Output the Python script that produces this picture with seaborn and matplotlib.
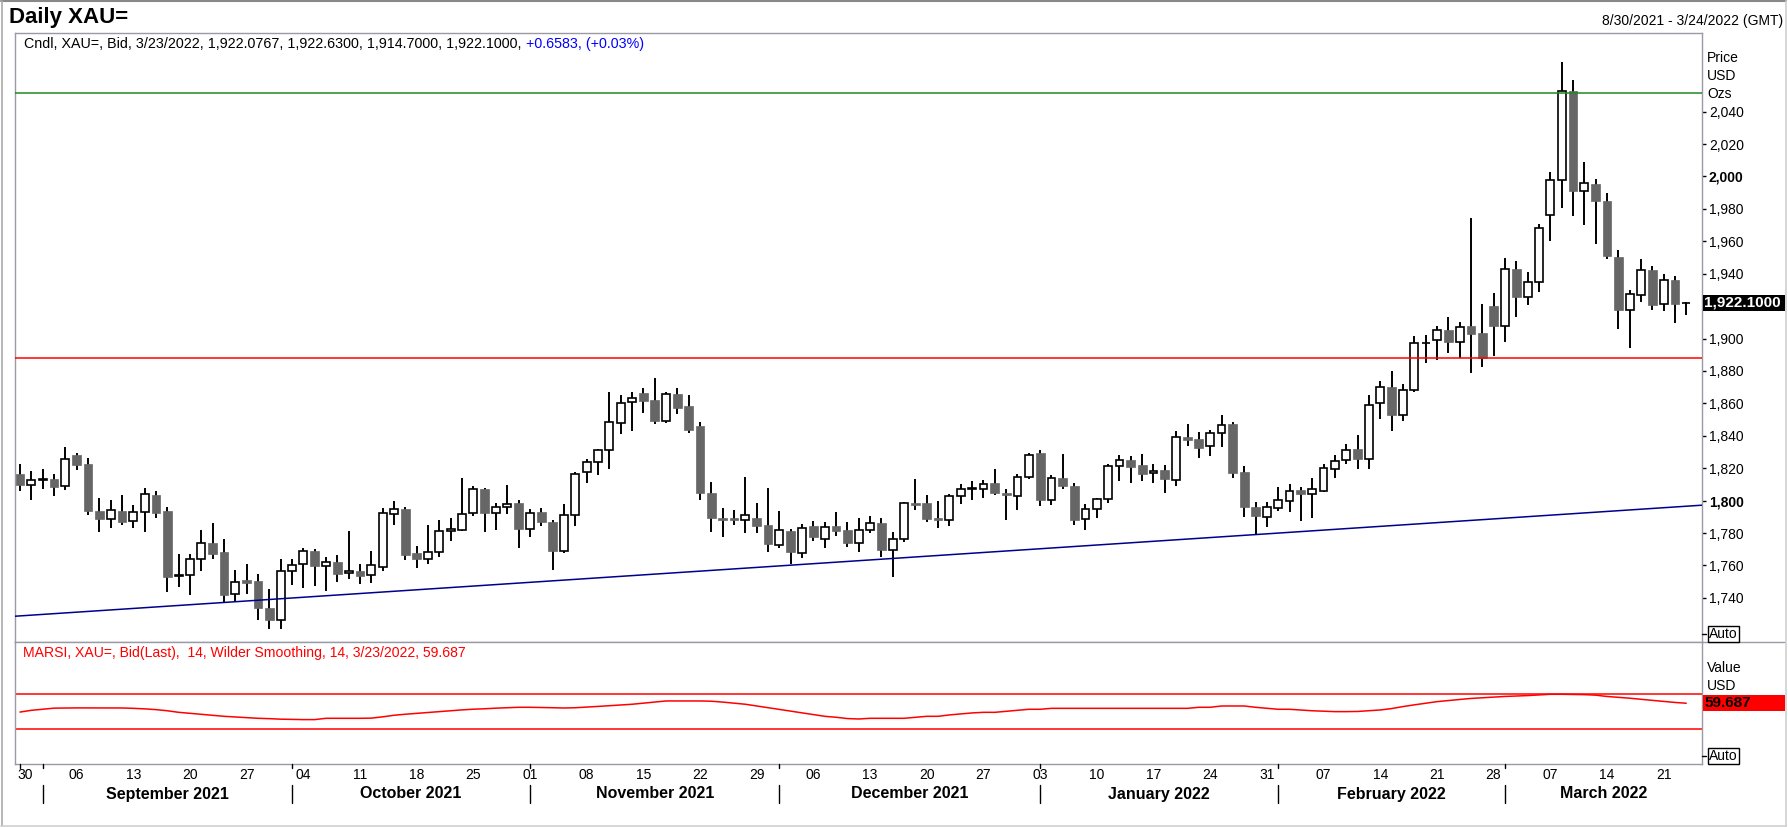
import numpy as np
import pandas as pd
import matplotlib
matplotlib.use("Agg")
import matplotlib.pyplot as plt
import seaborn as sns
from matplotlib.lines import Line2D
from matplotlib.patches import Rectangle
from matplotlib.transforms import blended_transform_factory as btf

# ---------------- data ----------------
dates = pd.bdate_range("2021-08-30", "2022-03-23")

opens = [1816.3, 1809.6, 1812.5, 1813.5, 1809.0, 1828.2, 1822.7, 1793.9, 1788.8, 1793.9,
         1787.6, 1793.1, 1803.7, 1793.9, 1753.5, 1753.9, 1763.7, 1774.1, 1768.2, 1742.4,
         1751.0, 1750.4, 1733.9, 1726.3, 1756.3, 1761.2, 1769.2, 1759.8, 1762.4, 1755.1,
         1756.9, 1753.9, 1759.2, 1791.8, 1795.1, 1767.6, 1764.3, 1768.6, 1781.4, 1782.0,
         1792.4, 1807.3, 1792.4, 1796.1, 1798.8, 1782.7, 1793.3, 1787.1, 1769.0, 1791.2,
         1817.6, 1823.7, 1831.0, 1848.2, 1861.0, 1866.7, 1861.8, 1849.2, 1865.5, 1858.2,
         1845.9, 1804.9, 1789.6, 1789.0, 1788.2, 1789.0, 1784.7, 1772.9, 1781.4, 1768.0,
         1784.1, 1776.5, 1784.1, 1782.2, 1774.1, 1782.0, 1786.5, 1769.8, 1776.5, 1798.6,
         1798.8, 1789.0, 1788.2, 1802.9, 1807.3, 1807.1, 1811.0, 1804.9, 1802.9, 1814.5,
         1829.4, 1800.4, 1813.9, 1809.2, 1788.8, 1794.9, 1800.8, 1821.2, 1825.1, 1822.0,
         1816.9, 1819.0, 1812.7, 1839.2, 1838.0, 1833.5, 1842.0, 1847.1, 1817.8, 1796.3,
         1790.0, 1795.5, 1799.8, 1806.7, 1804.1, 1805.9, 1819.4, 1824.9, 1831.6, 1825.5,
         1860.1, 1870.0, 1853.0, 1868.2, 1897.3, 1899.3, 1905.0, 1898.1, 1907.6, 1903.3,
         1919.9, 1907.8, 1943.1, 1925.9, 1935.1, 1976.3, 1997.9, 2052.8, 1990.9, 1995.4,
         1984.7, 1950.5, 1917.8, 1927.1, 1942.5, 1921.5, 1935.9, 1922.0767]
highs = [1822.4, 1818.4, 1819.4, 1816.3, 1833.1, 1829.4, 1826.1, 1801.6, 1800.6, 1803.7,
         1797.3, 1808.0, 1806.1, 1796.3, 1767.3, 1766.9, 1781.6, 1786.3, 1776.1, 1757.1,
         1760.8, 1754.7, 1745.5, 1763.9, 1763.7, 1770.8, 1770.2, 1765.1, 1766.7, 1781.0,
         1760.8, 1769.2, 1795.7, 1800.0, 1796.3, 1771.8, 1784.7, 1787.8, 1789.0, 1813.7,
         1809.0, 1808.0, 1798.6, 1809.8, 1800.6, 1795.1, 1795.7, 1787.8, 1798.0, 1817.8,
         1825.7, 1831.6, 1867.3, 1864.9, 1867.3, 1869.2, 1875.9, 1867.1, 1869.8, 1864.9,
         1848.4, 1811.6, 1795.7, 1794.5, 1814.7, 1798.8, 1808.0, 1793.9, 1782.7, 1785.7,
         1787.3, 1787.1, 1792.7, 1787.1, 1789.0, 1790.8, 1789.0, 1780.4, 1799.0, 1813.5,
         1803.7, 1800.0, 1804.1, 1810.4, 1812.2, 1812.9, 1819.6, 1807.3, 1816.3, 1829.6,
         1831.0, 1815.7, 1828.8, 1810.8, 1798.2, 1801.8, 1822.7, 1828.0, 1827.8, 1828.8,
         1822.7, 1822.2, 1842.9, 1847.1, 1842.2, 1843.3, 1853.1, 1848.8, 1821.4, 1799.4,
         1799.4, 1808.6, 1810.4, 1808.6, 1814.1, 1822.4, 1828.0, 1834.7, 1840.8, 1865.1,
         1873.8, 1879.9, 1872.1, 1901.4, 1902.4, 1907.7, 1913.2, 1910.5, 1974.3, 1921.1,
         1928.3, 1949.9, 1947.6, 1940.8, 1970.4, 2002.5, 2070.9, 2059.7, 2009.1, 1998.5,
         1989.6, 1954.4, 1929.7, 1949.2, 1944.9, 1940.0, 1938.4, 1922.63]
lows = [1805.7, 1800.4, 1806.9, 1803.1, 1806.7, 1819.2, 1791.0, 1780.6, 1783.1, 1784.7,
        1783.1, 1780.6, 1789.2, 1743.9, 1746.5, 1741.6, 1756.7, 1764.1, 1737.6, 1738.2,
        1742.7, 1726.1, 1720.8, 1720.8, 1748.2, 1746.1, 1747.6, 1744.5, 1750.0, 1751.8,
        1748.8, 1749.4, 1756.7, 1784.9, 1763.5, 1758.6, 1761.0, 1765.3, 1774.9, 1781.2,
        1790.4, 1780.6, 1781.8, 1791.6, 1770.8, 1777.6, 1784.5, 1757.1, 1767.8, 1784.3,
        1810.6, 1816.1, 1819.8, 1841.2, 1843.1, 1854.1, 1847.3, 1848.0, 1853.5, 1841.8,
        1800.6, 1780.4, 1777.6, 1785.1, 1780.0, 1780.0, 1768.4, 1771.0, 1761.2, 1764.7,
        1775.1, 1770.8, 1778.2, 1771.4, 1768.4, 1780.0, 1765.3, 1753.1, 1774.5, 1794.1,
        1786.7, 1783.1, 1784.3, 1797.8, 1800.2, 1801.4, 1803.3, 1788.0, 1794.1, 1813.1,
        1796.5, 1797.1, 1806.9, 1784.9, 1781.8, 1789.0, 1798.8, 1812.2, 1810.6, 1812.2,
        1811.0, 1804.5, 1808.8, 1833.9, 1826.5, 1827.8, 1833.3, 1813.7, 1789.8, 1779.0,
        1783.7, 1793.9, 1792.9, 1787.3, 1789.2, 1805.5, 1813.7, 1822.9, 1819.8, 1819.8,
        1850.2, 1843.2, 1849.3, 1867.1, 1885.0, 1886.5, 1890.8, 1888.1, 1878.5, 1882.6,
        1889.3, 1898.1, 1913.4, 1920.9, 1928.7, 1959.9, 1980.6, 1975.5, 1970.2, 1958.5,
        1949.0, 1906.2, 1894.3, 1922.8, 1917.4, 1917.2, 1909.6, 1914.70]
closes = [1809.4, 1812.7, 1813.2, 1808.6, 1825.5, 1822.2, 1793.5, 1788.6, 1794.3, 1786.7,
          1793.1, 1804.1, 1792.2, 1753.1, 1753.9, 1763.7, 1774.1, 1767.3, 1742.0, 1749.6,
          1749.4, 1733.5, 1726.1, 1756.3, 1760.0, 1769.2, 1759.8, 1762.4, 1754.9, 1756.3,
          1753.7, 1760.0, 1792.4, 1794.9, 1766.5, 1764.1, 1768.6, 1781.4, 1782.7, 1791.8,
          1807.1, 1792.2, 1796.1, 1798.0, 1782.4, 1792.4, 1786.7, 1769.0, 1791.2, 1816.3,
          1823.7, 1831.0, 1848.8, 1860.4, 1863.5, 1861.4, 1849.2, 1865.9, 1857.1, 1843.7,
          1804.5, 1789.2, 1788.0, 1788.0, 1791.2, 1784.3, 1773.3, 1782.0, 1768.2, 1783.3,
          1777.6, 1783.9, 1781.2, 1773.9, 1782.0, 1786.1, 1769.6, 1776.5, 1798.6, 1797.1,
          1788.6, 1788.0, 1802.9, 1807.1, 1807.8, 1810.2, 1804.5, 1803.3, 1814.5, 1828.0,
          1800.2, 1813.9, 1808.8, 1788.0, 1794.9, 1801.0, 1821.2, 1824.9, 1821.0, 1816.7,
          1818.4, 1813.1, 1839.0, 1837.6, 1832.7, 1842.0, 1846.9, 1817.3, 1795.9, 1790.4,
          1796.1, 1800.4, 1805.9, 1803.9, 1807.1, 1820.0, 1824.7, 1831.4, 1825.9, 1859.2,
          1870.0, 1852.6, 1868.2, 1897.5, 1897.5, 1905.0, 1897.9, 1907.4, 1902.9, 1888.1,
          1907.8, 1943.1, 1925.7, 1935.1, 1968.3, 1997.9, 2052.8, 1990.9, 1996.1, 1984.7,
          1950.7, 1917.8, 1927.7, 1942.5, 1920.7, 1935.9, 1921.3, 1922.10]

rsi = [49.5, 51.5, 52.8, 54.0, 54.2, 54.3, 54.3, 54.2, 54.2, 54.2,
       53.8, 53.2, 52.3, 51.0, 49.2, 48.0, 46.9, 45.8, 44.6, 43.8,
       43.0, 42.3, 41.9, 41.3, 41.0, 40.8, 40.8, 42.3, 42.3, 42.3,
       42.3, 42.5, 44.0, 45.8, 47.0, 48.0, 49.0, 50.0, 51.0, 52.0,
       52.8, 53.3, 54.0, 54.5, 55.0, 55.0, 54.8, 54.5, 54.2, 54.5,
       55.2, 56.0, 56.8, 57.5, 58.5, 59.8, 61.0, 62.3, 62.3, 62.3,
       62.3, 62.0, 61.0, 59.8, 58.5, 56.5, 54.5, 52.5, 50.4, 48.5,
       46.5, 44.6, 43.5, 42.0, 41.5, 42.3, 42.3, 42.3, 42.3, 43.5,
       44.6, 44.6, 46.2, 47.3, 48.5, 49.2, 49.2, 50.4, 51.5, 52.7,
       52.7, 53.8, 53.8, 53.8, 53.8, 53.8, 53.8, 53.8, 53.8, 53.8,
       53.8, 53.8, 53.8, 53.8, 55.0, 55.0, 56.5, 56.5, 56.5, 55.0,
       53.8, 52.7, 52.7, 51.9, 51.0, 50.5, 50.0, 50.0, 50.2, 51.0,
       51.9, 53.5, 55.8, 57.8, 59.6, 61.5, 62.8, 64.0, 65.2, 66.0,
       66.8, 67.5, 68.0, 68.5, 69.2, 70.0, 70.0, 69.8, 69.6, 69.0,
       67.5, 66.5, 65.5, 64.2, 63.0, 61.8, 60.6, 59.687]

resistance_level = 2051.3
support_level = 1887.8
trend_start, trend_end = 1728.7, 1797.2
rsi_upper, rsi_lower = 70, 30
net_change, pct_change = 0.6583, 0.03
price_ticks = list(range(1740, 2041, 20))
bold_ticks = [1800, 2000]
month_names = ["September 2021", "October 2021", "November 2021", "December 2021",
               "January 2022", "February 2022", "March 2022"]

# ---------------- style ----------------
sns.set_theme(style="white")
plt.rcParams["font.family"] = ["Liberation Sans", "DejaVu Sans"]

W, H = 1788, 827
fig = plt.figure(figsize=(W / 100, H / 100), dpi=100)
fig.patch.set_facecolor("white")


def fx(px):
    return px / W


def fy(py):
    return 1 - py / H


L, R = 15, 1702
TOP, MID, BOT = 33, 642, 764
ax = fig.add_axes([fx(L), fy(MID), fx(R - L), (MID - TOP) / H])
ax2 = fig.add_axes([fx(L), fy(BOT), fx(R - L), (BOT - MID) / H])

spine_c = "#9a9aa6"
for a in (ax, ax2):
    a.set_facecolor("white")
    for s in a.spines.values():
        s.set_color(spine_c)
        s.set_linewidth(1.0)

n = len(closes)
x = np.arange(n)
xlim = (-0.44, 148.39)

o = np.array(opens)
c = np.array(closes)
up = c >= o

# wicks
ax.vlines(x, lows, highs, color="black", lw=1.4, zorder=2)
# bodies
ax.bar(x[up], (c - o)[up], bottom=o[up], width=0.70, color="white",
       edgecolor="black", linewidth=1.2, zorder=3)
ax.bar(x[~up], (o - c)[~up], bottom=c[~up], width=0.77, color="#666666",
       edgecolor="#666666", linewidth=0.5, zorder=3)

# reference lines
ax.axhline(resistance_level, color="#1f8a1f", lw=1.1, zorder=4)
ax.axhline(support_level, color="#ff0000", lw=1.1, zorder=4)
sns.lineplot(x=list(xlim), y=[trend_start, trend_end], ax=ax, color="#00008b",
             lw=1.1, zorder=4)

ax.set_xlim(*xlim)
ax.set_ylim(1712.8, 2088.5)
ax.yaxis.tick_right()
ax.set_yticks(price_ticks)
# the tick label hidden behind the last-price box is left blank
ax.set_yticklabels([("" if abs(v - closes[-1]) < 8 else f"{v:,}") for v in price_ticks])
for lbl, v in zip(ax.get_yticklabels(), price_ticks):
    if v in bold_ticks:
        lbl.set_fontweight("bold")
        lbl.set_fontsize(12)
ax.tick_params(axis="y", right=True, left=False, length=3, width=1, color="black",
               pad=2, labelsize=10, labelcolor="black")
ax.tick_params(axis="x", bottom=False, labelbottom=False)
ax.set_xlabel("")
ax.set_ylabel("")

# RSI panel
sns.lineplot(x=x, y=rsi, ax=ax2, color="#ff0000", lw=1.1)
ax2.axhline(rsi_upper, color="#ff0000", lw=1.1)
ax2.axhline(rsi_lower, color="#ff0000", lw=1.1)
ax2.set_xlim(*xlim)
ax2.set_ylim(-10.4, 130.3)
ax2.set_yticks([])
ax2.set_xlabel("")
ax2.set_ylabel("")

mondays = [i for i, d in enumerate(dates) if d.weekday() == 0]
mon_pos = [i + (0.5 if i == 0 else 0) for i in mondays]
ax2.set_xticks(mon_pos)
ax2.set_xticklabels([dates[i].strftime("%d") for i in mondays])
ax2.tick_params(axis="x", bottom=True, length=0, pad=3, labelsize=10, labelcolor="black")

# month labels and separators
month_start = [i for i in range(1, n) if dates[i].month != dates[i - 1].month]
bounds = month_start + [xlim[1]]
tr = btf(ax2.transData, fig.transFigure)
for k, name in enumerate(month_names):
    cx = (bounds[k] + bounds[k + 1]) / 2
    fig.text(cx, fy(794), name, transform=tr, ha="center", va="center",
             fontsize=11.5, fontweight="bold", color="black")
for b in month_start:
    fig.add_artist(Line2D([b, b], [fy(785), fy(803)], transform=tr, color="black", lw=1))
for b in [0] + month_start:
    fig.add_artist(Line2D([b, b], [fy(764), fy(768)], transform=tr, color="black", lw=1))

# right-side labels
for txt, yy in (("Price", 58), ("USD", 76), ("Ozs", 94)):
    fig.text(fx(1707), fy(yy), txt, ha="left", va="center", fontsize=10, color="black")
for txt, yy in (("Value", 668), ("USD", 686)):
    fig.text(fx(1707), fy(yy), txt, ha="left", va="center", fontsize=10, color="black")


def value_box(axis, value, text, fc, tc):
    ydisp = axis.transData.transform((0, value))[1]   # pixels from bottom
    yfig = ydisp / H
    hbox = 16 / H
    fig.add_artist(Rectangle((fx(1702.5), yfig - hbox / 2), fx(1785 - 1702.5), hbox,
                             transform=fig.transFigure, fc=fc, ec="none", zorder=5))
    fig.text(fx(1704), yfig, text, ha="left", va="center", fontsize=11,
             fontweight="bold", color=tc, zorder=6)


value_box(ax, closes[-1], f"{closes[-1]:,.4f}", "black", "white")
value_box(ax2, rsi[-1], f"{rsi[-1]:.3f}", "#ff0000", "black")

for yy in (634, 756):
    fig.text(fx(1709), fy(yy), "Auto", ha="left", va="center", fontsize=10, color="black",
             bbox=dict(boxstyle="square,pad=0.1", fc="white", ec="black", lw=1))
    fig.add_artist(Line2D([fx(1702), fx(1706)], [fy(yy), fy(yy)], color="black", lw=1))

# separator to the right of the panels
fig.add_artist(Line2D([fx(R), fx(1785)], [fy(MID), fy(MID)], color=spine_c, lw=1))

# header texts
fig.text(fx(9), fy(17), "Daily XAU=", ha="left", va="center", fontsize=16,
         fontweight="bold", color="black")
fig.text(fx(1783), fy(21), "8/30/2021 - 3/24/2022 (GMT)", ha="right", va="center",
         fontsize=10, color="black")
last = dates[-1]
head = (f"Cndl, XAU=, Bid, {last.month}/{last.day}/{last.year}, {opens[-1]:,.4f}, "
        f"{highs[-1]:,.4f}, {lows[-1]:,.4f}, {closes[-1]:,.4f}, ")
t1 = fig.text(fx(24), fy(44), head, ha="left", va="center", fontsize=10.3, color="black")
fig.canvas.draw()
bb = t1.get_window_extent(renderer=fig.canvas.get_renderer())
fig.text(bb.x1 / W, fy(44), f"+{net_change:.4f}, (+{pct_change:.2f}%)", ha="left",
         va="center", fontsize=10.3, color="#0000ff")

fig.text(fx(23), fy(653),
         f"MARSI, XAU=, Bid(Last),  14, Wilder Smoothing, 14, {last.month}/{last.day}/{last.year}, {rsi[-1]:.3f}",
         ha="left", va="center", fontsize=10.1, color="#ff0000")

# outer frame
fig.add_artist(Line2D([fx(1), fx(1786)], [fy(1), fy(1)], color="#888888", lw=1.5))
fig.add_artist(Line2D([fx(1.5), fx(1.5)], [fy(1), fy(826)], color="#aaaaaa", lw=1.2))
fig.add_artist(Line2D([fx(1785.5), fx(1785.5)], [fy(1), fy(826)], color="#d0d0d0", lw=1.2))
fig.add_artist(Line2D([fx(1), fx(1786)], [fy(825.5), fy(825.5)], color="#d0d0d0", lw=1.2))

fig.savefig("out.png", dpi=100, facecolor="white")
